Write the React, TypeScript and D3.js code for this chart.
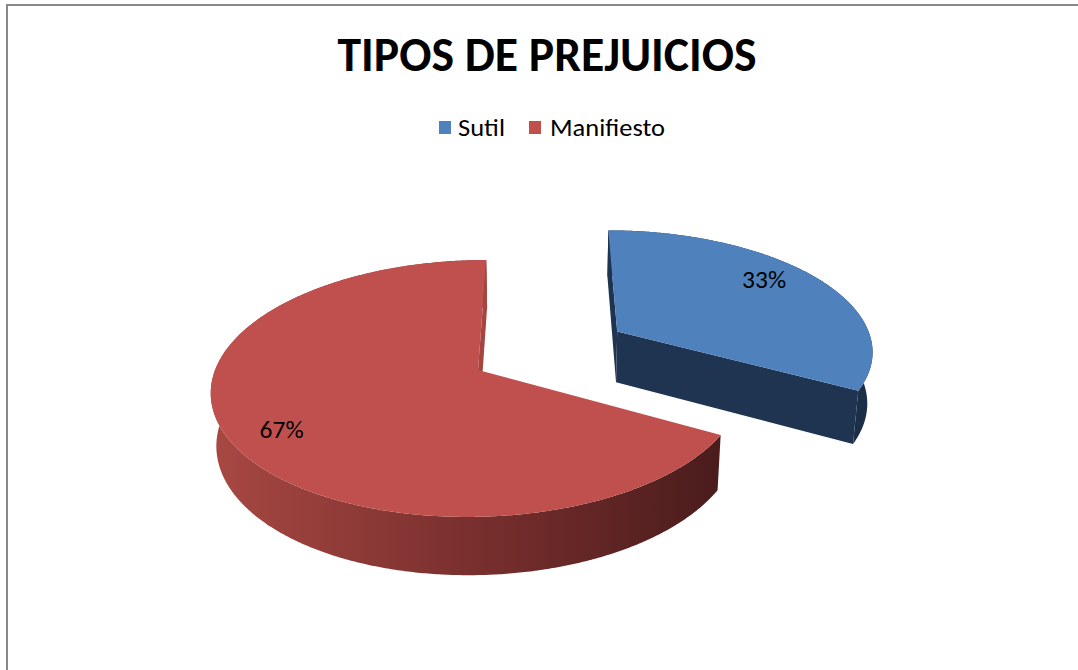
import React from "react";
import * as d3 from "d3";

const title = "TIPOS DE PREJUICIOS";
const categories = ["Sutil", "Manifiesto"];
const values = [33, 67];
const valueLabels = ["33%", "67%"];
const topColors = ["#4F81BD", "#C0504D"];
const wallStops = [
  ["#1F3552", "#1F3450", "#1B2E48"],
  ["#A84843", "#7A302E", "#4A1C1C"],
];
const cutColors = ["#1F3450", "#A54541"];
const explode = [0.63, 0];
const labelRadius = [0.7, 0.8];
const labelNudge = [
  [6, -4.5],
  [0, 14],
];

const W = 1078;
const H = 670;

// 3D view parameters
const APEX_X = 478;
const APEX_Y = 370;
const KX = 0.97;
const TILT = (27.65 * Math.PI) / 180;
const SN = Math.sin(TILT);
const CS = Math.cos(TILT);
const DIST = 6.157;
const FOC = 1669;
const CAMX = 0.25;
const THICK = 0.222;
const CAM = [CAMX, DIST * SN, DIST * CS];

type V3 = [number, number, number];

function proj(p: V3): [number, number] {
  const [px, py, pz] = p;
  const fwd = DIST - py * SN - pz * CS;
  const up = py * CS - pz * SN;
  const sx = FOC * ((px - CAMX) / fwd + CAMX / DIST);
  return [APEX_X + KX * sx, APEX_Y - (FOC * up) / fwd];
}

function rim(t: number, r: number, y: number, off: V3): V3 {
  return [off[0] + r * Math.sin(t), y, off[2] - r * Math.cos(t)];
}

function arcPts(a0: number, a1: number, r: number, y: number, off: V3): V3[] {
  const n = Math.max(2, Math.ceil((a1 - a0) / (Math.PI / 360)) + 1);
  return d3.range(n).map((i) => rim(a0 + ((a1 - a0) * i) / (n - 1), r, y, off));
}

const line = d3.line<[number, number]>();
const poly = (pts: V3[]) => (line(pts.map(proj)) || "") + "Z";

const pie = d3
  .pie<number>()
  .sort(null)
  .value((d) => d)
  .startAngle(0)
  .endAngle(2 * Math.PI);

export default function App() {
  const arcs = pie(values);

  const slices = arcs.map((a, i) => {
    const a0 = a.startAngle;
    const a1 = a.endAngle;
    const mid = (a0 + a1) / 2;
    const e = explode[i];
    const off: V3 = [e * Math.sin(mid), 0, -e * Math.cos(mid)];
    const topArc = arcPts(a0, a1, 1, 0, off);
    const botArc = arcPts(a0, a1, 1, -THICK, off);
    const wall = poly([...topArc, ...botArc.slice().reverse()]);
    const cTop: V3 = [off[0], 0, off[2]];
    const cBot: V3 = [off[0], -THICK, off[2]];
    const toCam = [CAM[0] - cTop[0], CAM[1], CAM[2] - cTop[2]];
    const faces: string[] = [];
    const nStart = [-Math.cos(a0), 0, -Math.sin(a0)];
    const nEnd = [Math.cos(a1), 0, Math.sin(a1)];
    if (nStart[0] * toCam[0] + nStart[2] * toCam[2] > 0) {
      faces.push(poly([cTop, rim(a0, 1, 0, off), rim(a0, 1, -THICK, off), cBot]));
    }
    if (nEnd[0] * toCam[0] + nEnd[2] * toCam[2] > 0) {
      faces.push(poly([cTop, rim(a1, 1, 0, off), rim(a1, 1, -THICK, off), cBot]));
    }
    const top = poly([cTop, ...topArc]);
    const xs = topArc.map((p) => proj(p)[0]);
    const gx0 = d3.min(xs) as number;
    const gx1 = d3.max(xs) as number;
    const lp = proj(rim(mid, labelRadius[i], 0, off));
    return { i, wall, faces, top, gx0, gx1, lp };
  });

  // far (exploded) slices first
  const order = slices.slice().sort((p, q) => explode[q.i] - explode[p.i]);

  const font = "Carlito, Calibri, Lato, 'Open Sans', sans-serif";

  return (
    <svg
      width={W}
      height={H}
      viewBox={`0 0 ${W} ${H}`}
      style={{ position: "absolute", left: 0, top: 0, display: "block" }}
    >
      <defs>
        {slices.map((s) => (
          <linearGradient
            key={s.i}
            id={`wall${s.i}`}
            gradientUnits="userSpaceOnUse"
            x1={s.gx0}
            y1={0}
            x2={s.gx1}
            y2={0}
          >
            <stop offset="0" stopColor={wallStops[s.i][0]} />
            <stop offset="0.5" stopColor={wallStops[s.i][1]} />
            <stop offset="1" stopColor={wallStops[s.i][2]} />
          </linearGradient>
        ))}
      </defs>
      <rect x={0} y={0} width={W} height={H} fill="#ffffff" />
      <rect x={7} y={5} width={W + 40} height={H + 40} fill="#ffffff" stroke="#888888" strokeWidth={2} />

      <text
        x={547}
        y={71}
        textAnchor="middle"
        fontFamily={font}
        fontWeight="bold"
        fontSize={48}
        textLength={419}
        lengthAdjust="spacingAndGlyphs"
        fill="#000"
      >
        {title}
      </text>

      {/* legend */}
      <g fontFamily={font} fontSize={25} fill="#000">
        <rect x={439} y={121} width={12} height={13} fill={topColors[0]} />
        <text x={458} y={136} textLength={47} lengthAdjust="spacingAndGlyphs">
          {categories[0]}
        </text>
        <rect x={529} y={121} width={12} height={13} fill={topColors[1]} />
        <text x={550} y={136} textLength={115} lengthAdjust="spacingAndGlyphs">
          {categories[1]}
        </text>
      </g>

      {order.map((s) => (
        <g key={s.i}>
          <path d={s.wall} fill={`url(#wall${s.i})`} />
          {s.faces.map((f, k) => (
            <path key={k} d={f} fill={cutColors[s.i]} />
          ))}
          <path d={s.top} fill={topColors[s.i]} />
        </g>
      ))}

      {slices.map((s) => (
        <text
          key={s.i}
          x={s.lp[0] + labelNudge[s.i][0]}
          y={s.lp[1] + labelNudge[s.i][1]}
          textAnchor="middle"
          fontFamily={font}
          fontSize={25}
          textLength={44}
          lengthAdjust="spacingAndGlyphs"
          fill="#000"
        >
          {valueLabels[s.i]}
        </text>
      ))}
    </svg>
  );
}
